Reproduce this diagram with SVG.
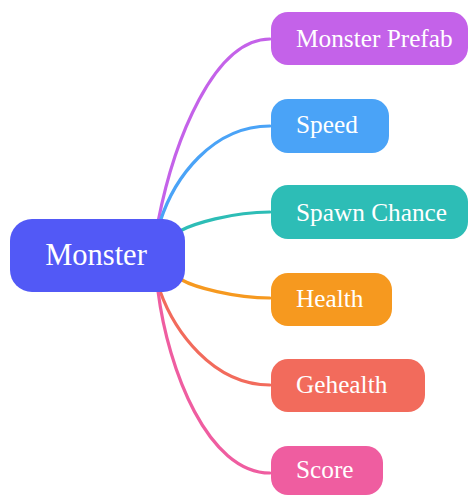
<svg xmlns="http://www.w3.org/2000/svg" width="469" height="496" viewBox="0 0 469 496">
<style>
.c{fill:none;stroke-width:3.2;stroke-linecap:round}
</style>
<rect width="469" height="496" fill="#ffffff"/>
<g id="connectors">
<path class="c" stroke="#C462E9" d="M158,222 C174,140 214,39 270,39"/>
<path class="c" stroke="#4AA3F7" d="M160,222 C174,178 212,126 270,126"/>
<path class="c" stroke="#2DBDB6" d="M180,231 C192,224 232,212 270,212"/>
<path class="c" stroke="#F6991F" d="M182,280 C194,287 234,298 270,298"/>
<path class="c" stroke="#F26B5C" d="M160,291 C174,330 212,385 270,385"/>
<path class="c" stroke="#EF5DA0" d="M158,291 C168,370 208,473 270,473"/>
</g>
<g id="node-monster">
<rect x="10" y="219" width="175" height="73" rx="22" fill="#5259F6"/>
<text x="96" y="265" text-anchor="middle" font-family="'Liberation Serif', 'Times New Roman', serif" font-size="30.5" fill="#ffffff">Monster</text>
</g>
<g id="node-monster-prefab">
<rect x="271" y="12" width="197" height="53" rx="17" fill="#C462E9"/>
<text x="296" y="47" font-family="'Liberation Serif', 'Times New Roman', serif" font-size="25.3" fill="#ffffff">Monster Prefab</text>
</g>
<g id="node-speed">
<rect x="271" y="99" width="118" height="54" rx="17" fill="#4AA3F7"/>
<text x="296" y="133" font-family="'Liberation Serif', 'Times New Roman', serif" font-size="25.3" fill="#ffffff">Speed</text>
</g>
<g id="node-spawn-chance">
<rect x="271" y="185" width="197" height="54" rx="17" fill="#2DBDB6"/>
<text x="296" y="221" font-family="'Liberation Serif', 'Times New Roman', serif" font-size="25.3" fill="#ffffff">Spawn Chance</text>
</g>
<g id="node-health">
<rect x="271" y="273" width="121" height="53" rx="17" fill="#F6991F"/>
<text x="296" y="307" font-family="'Liberation Serif', 'Times New Roman', serif" font-size="25.3" fill="#ffffff">Health</text>
</g>
<g id="node-gehealth">
<rect x="271" y="359" width="154" height="53" rx="17" fill="#F26B5C"/>
<text x="296" y="393" font-family="'Liberation Serif', 'Times New Roman', serif" font-size="25.3" fill="#ffffff">Gehealth</text>
</g>
<g id="node-score">
<rect x="271" y="446" width="112" height="49" rx="17" fill="#EF5DA0"/>
<text x="296" y="478" font-family="'Liberation Serif', 'Times New Roman', serif" font-size="25.3" fill="#ffffff">Score</text>
</g>
</svg>
